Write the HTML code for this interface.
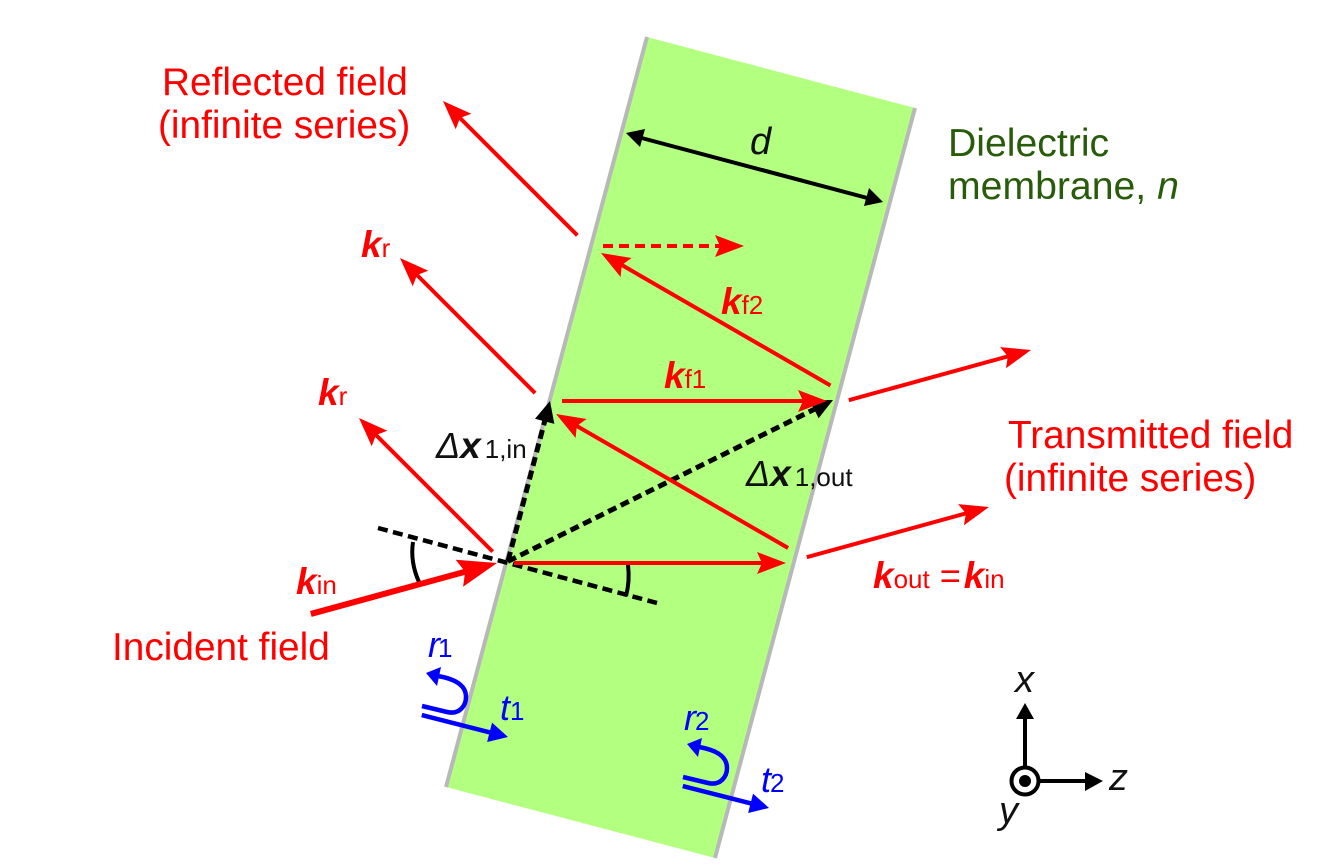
<!DOCTYPE html>
<html><head><meta charset="utf-8">
<style>
html,body{margin:0;padding:0;background:#fff}
svg{display:block}
text{font-family:"Liberation Sans",sans-serif}
.k{font-weight:bold;font-style:italic;font-size:37px}
.s{font-size:26px}
.l{font-size:38.800px}
.g{font-size:39.200px}
.i{font-style:italic;font-size:38px}
.b{font-style:italic;font-size:36px}
.e{font-size:36px}
</style></head><body>
<svg width="1339" height="866" viewBox="0 0 1339 866" xmlns="http://www.w3.org/2000/svg">
<polygon points="647,37 915,108 715,858 446,787" fill="#b3ff80"/>
<line x1="647" y1="37" x2="446" y2="787" stroke="#b8b8b8" stroke-width="4"/>
<line x1="915" y1="108" x2="715" y2="858" stroke="#b8b8b8" stroke-width="4"/>

<!-- normal dashed -->
<line x1="378" y1="528" x2="657" y2="603" stroke="#000" stroke-width="4.500" stroke-dasharray="10 5.500"/>
<!-- black dashed -->
<g transform="translate(550,401) rotate(-75.3)"><line x1="-165" x2="-14" stroke="#000" stroke-width="5" stroke-dasharray="9 5"/><polygon points="0,0 -21,-10 -21,10" fill="#000"/></g>
<g transform="translate(833,400) rotate(-26.4)"><line x1="-363" x2="-14" stroke="#000" stroke-width="5" stroke-dasharray="9 5"/><polygon points="0,0 -21,-10 -21,10" fill="#000"/></g>
<!-- arcs -->
<path d="M413,542 Q410,562 419,582" fill="none" stroke="#000" stroke-width="4"/>
<path d="M628,565 Q630,581 626,596" fill="none" stroke="#000" stroke-width="4"/>

<!-- red arrows -->
<g fill="#f00" stroke="none">
<g transform="translate(497,563) rotate(-15.3)"><line x1="-193" x2="-25" stroke="#f00" stroke-width="6"/><polygon points="0,0 -39,-14 -33,0 -39,14"/></g>
<g transform="translate(359,418) rotate(225)"><line x1="-189" x2="-20" stroke="#f00" stroke-width="4"/><polygon points="0,0 -29,-11 -24,0 -29,11"/></g>
<g transform="translate(400,258) rotate(225)"><line x1="-191" x2="-20" stroke="#f00" stroke-width="4"/><polygon points="0,0 -29,-11 -24,0 -29,11"/></g>
<g transform="translate(443,101) rotate(225)"><line x1="-190" x2="-20" stroke="#f00" stroke-width="4"/><polygon points="0,0 -29,-11 -24,0 -29,11"/></g>
<g transform="translate(786,563)"><line x1="-272" x2="-20" stroke="#f00" stroke-width="4"/><polygon points="0,0 -29,-11 -24,0 -29,11"/></g>
<g transform="translate(556,414) rotate(210)"><line x1="-268" x2="-20" stroke="#f00" stroke-width="4"/><polygon points="0,0 -29,-11 -24,0 -29,11"/></g>
<g transform="translate(827,401)"><line x1="-265" x2="-20" stroke="#f00" stroke-width="4"/><polygon points="0,0 -29,-11 -24,0 -29,11"/></g>
<g transform="translate(601,253) rotate(210)"><line x1="-265" x2="-20" stroke="#f00" stroke-width="4"/><polygon points="0,0 -29,-11 -24,0 -29,11"/></g>
<g transform="translate(744,246)"><line x1="-141" x2="-24" stroke="#f00" stroke-width="4" stroke-dasharray="10 6"/><polygon points="0,0 -29,-11 -24,0 -29,11"/></g>
<g transform="translate(1031,350) rotate(-15.4)"><line x1="-189" x2="-20" stroke="#f00" stroke-width="4"/><polygon points="0,0 -29,-11 -24,0 -29,11"/></g>
<g transform="translate(989,507) rotate(-15.4)"><line x1="-189" x2="-20" stroke="#f00" stroke-width="4"/><polygon points="0,0 -29,-11 -24,0 -29,11"/></g>
</g>

<!-- d arrow -->
<g fill="#000">
<line x1="636" y1="136.500" x2="873" y2="199.500" stroke="#000" stroke-width="4"/>
<polygon points="626,133 645,129 640,147"/>
<polygon points="883,202 864,206 869,188"/>
</g>

<!-- blue -->
<g fill="#00f">
<path d="M422,706 L447,712 C460,715 466,705 466,697 C466,685 455,679 438,676" fill="none" stroke="#00f" stroke-width="4.500"/>
<polygon points="426,673 441,667 437,686"/>
<g transform="translate(508,737) rotate(14.3)"><line x1="-89" x2="-12" stroke="#00f" stroke-width="4.500"/><polygon points="0,0 -19,-10 -19,10"/></g>
</g>
<g transform="translate(261,71)" fill="#00f">
<path d="M422,706 L447,712 C460,715 466,705 466,697 C466,685 455,679 438,676" fill="none" stroke="#00f" stroke-width="4.500"/>
<polygon points="426,673 441,667 437,686"/>
<g transform="translate(508,737) rotate(14.3)"><line x1="-89" x2="-12" stroke="#00f" stroke-width="4.500"/><polygon points="0,0 -19,-10 -19,10"/></g>
</g>

<!-- axes -->
<g fill="#000">
<line x1="1025" y1="768" x2="1025" y2="715" stroke="#000" stroke-width="4"/>
<polygon points="1025,703 1016,719 1034,719"/>
<line x1="1038" y1="781" x2="1090" y2="781" stroke="#000" stroke-width="4"/>
<polygon points="1103,781 1085,772 1085,791"/>
<circle cx="1025" cy="781" r="13.500" fill="#fff" stroke="#000" stroke-width="4"/>
<circle cx="1025" cy="781" r="6"/>
</g>

<!-- labels -->
<g fill="#f00">
<text class="l" x="162" y="95">Reflected field</text>
<text class="l" x="158" y="138">(infinite series)</text>
<text class="l" x="1008" y="448">Transmitted field</text>
<text class="l" x="1004" y="491">(infinite series)</text>
<text class="l" x="112" y="660">Incident field</text>
<text x="361" y="257"><tspan class="k">k</tspan><tspan class="s">r</tspan></text>
<text x="318" y="405"><tspan class="k">k</tspan><tspan class="s">r</tspan></text>
<text x="296" y="594"><tspan class="k">k</tspan><tspan class="s">in</tspan></text>
<text x="664" y="388"><tspan class="k">k</tspan><tspan class="s">f1</tspan></text>
<text x="721" y="314"><tspan class="k">k</tspan><tspan class="s">f2</tspan></text>
<text x="873" y="588"><tspan class="k">k</tspan><tspan class="s">out</tspan><tspan class="e"> =</tspan><tspan class="k" dx="3">k</tspan><tspan class="s">in</tspan></text>
</g>
<g fill="#285c0a">
<text class="g" x="948" y="156">Dielectric</text>
<text class="g" x="948" y="199">membrane, <tspan font-style="italic">n</tspan></text>
</g>
<g fill="#111">
<text class="i" x="750" y="154">d</text>
<text x="436" y="458"><tspan class="b">Δ</tspan><tspan class="k">x</tspan><tspan class="s" dx="4">1,in</tspan></text>
<text x="746" y="486"><tspan class="b">Δ</tspan><tspan class="k">x</tspan><tspan class="s" dx="4">1,out</tspan></text>
<text class="i" x="1015" y="692">x</text>
<text class="i" x="999" y="823">y</text>
<text class="i" x="1109" y="790">z</text>
</g>
<g fill="#00f">
<text x="428" y="657"><tspan class="b">r</tspan><tspan class="s" dx="-2">1</tspan></text>
<text x="500" y="720"><tspan class="b">t</tspan><tspan class="s">1</tspan></text>
<text x="684" y="730"><tspan class="b">r</tspan><tspan class="s" dx="-1">2</tspan></text>
<text x="761" y="792"><tspan class="b">t</tspan><tspan class="s" dx="-1">2</tspan></text>
</g>
</svg>
</body></html>
